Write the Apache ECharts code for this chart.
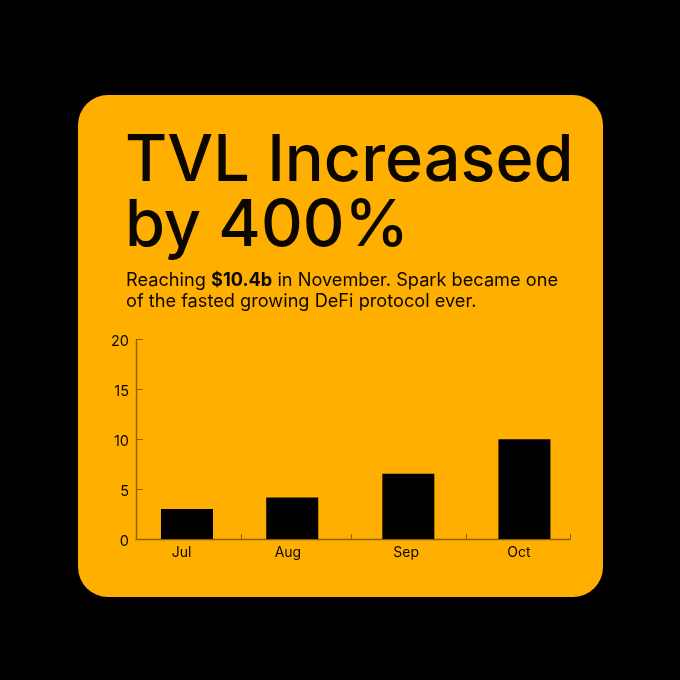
<!DOCTYPE html>
<html>
<head>
<meta charset="utf-8">
<style>
  html, body { margin: 0; padding: 0; background: #000; }
  #chart { width: 680px; height: 680px; }
</style>
<script src="https://cdn.jsdelivr.net/npm/echarts@6/dist/echarts.min.js"></script>
</head>
<body>
<div id="chart"></div>
<script>
// values
var months = ['Jul', 'Aug', 'Sep', 'Oct'];
var tvl = [3, 4.15, 6.55, 10];
var yTicks = [0, 5, 10, 15, 20];
// the source spaces its months unevenly, so x is in "month slots" from 0 to 4
var barSlots = [0.47, 1.44, 2.51, 3.58];
var labelSlots = [0.42, 1.4, 2.49, 3.53];
var tickSlots = [0, 0.97, 1.98, 3.04, 4];

var titleLine1 = 'TVL Increased';
var titleLine2 = 'by 400%';

var gold = '#FFAF00';
var ink = '#0b0700';
var axisColor = '#8f6200';

var font = 'Inter';

var chart = echarts.init(document.getElementById('chart'));

chart.setOption({
    backgroundColor: '#000',
    animation: false,
    graphic: [{
        type: 'rect',
        z: -1,
        shape: { x: 78, y: 95, width: 525, height: 502, r: 30 },
        style: { fill: gold }
    }],
    title: [
        {
            text: titleLine1 + '\n' + titleLine2,
            left: 125,
            top: 129,
            padding: 0,
            textStyle: { color: ink, fontFamily: font, fontSize: 64.8, fontWeight: 500, lineHeight: 65 }
        },
        {
            text: 'Reaching {b|$10.4b} in November. Spark became one\nof the fasted growing DeFi protocol ever.',
            left: 126,
            top: 270,
            padding: 0,
            textStyle: {
                color: ink,
                fontFamily: font,
                fontSize: 18.2,
                fontWeight: 400,
                lineHeight: 21,
                rich: {
                    b: { fontFamily: font, fontSize: 18.2, fontWeight: 700, color: ink, lineHeight: 21 }
                }
            }
        }
    ],
    grid: { left: 136, right: 110, top: 339.5, bottom: 141, containLabel: false },
    xAxis: {
        type: 'value',
        min: 0,
        max: 4,
        splitLine: { show: false },
        axisLine: { show: true, lineStyle: { color: axisColor, width: 1.4 } },
        axisTick: { show: true, inside: true, length: 5, customValues: tickSlots, lineStyle: { color: axisColor } },
        axisLabel: {
            show: true,
            customValues: labelSlots,
            margin: 7,
            color: ink,
            fontFamily: font,
            fontSize: 14,
            formatter: function (v) {
                return months[labelSlots.indexOf(v)];
            }
        }
    },
    yAxis: {
        type: 'value',
        min: yTicks[0],
        max: yTicks[yTicks.length - 1],
        interval: 5,
        splitLine: { show: false },
        axisLine: { show: true, lineStyle: { color: axisColor, width: 1.4 } },
        axisTick: { show: true, inside: true, length: 7, lineStyle: { color: axisColor } },
        axisLabel: {
            margin: 7,
            formatter: '{n|{value}}',
            rich: {
                // labels sit a little under their ticks in the source
                n: { color: ink, fontFamily: font, fontSize: 14.5, padding: [5, 0, 0, 0] }
            }
        }
    },
    series: [{
        type: 'bar',
        barWidth: 52,
        itemStyle: { color: '#000' },
        data: tvl.map(function (v, i) { return [barSlots[i], v]; })
    }]
});
</script>
</body>
</html>
